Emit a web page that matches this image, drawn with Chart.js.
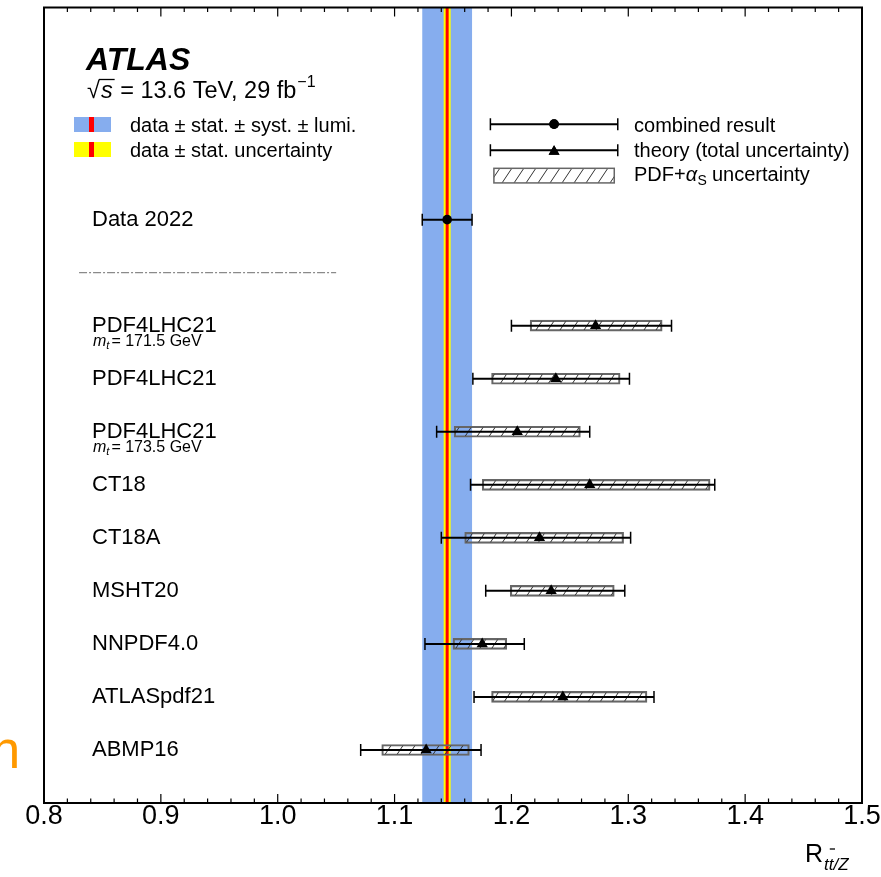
<!DOCTYPE html>
<html>
<head>
<meta charset="utf-8">
<script src="https://cdn.jsdelivr.net/npm/chart.js@4/dist/chart.umd.min.js"></script>
<style>
  html, body { margin: 0; padding: 0; background: #fff; }
  canvas { display: block; }
</style>
</head>
<body>
<canvas id="ratioChart" width="881" height="877"></canvas>
<script>
// measured ratio (Data 2022) and its uncertainties
const dataValue = 1.145;
const dataStat = 0.003;
const dataSyst = 0.021;
const dataLumi = 0.002;
const dataTotal = Math.sqrt(dataStat * dataStat + dataSyst * dataSyst + dataLumi * dataLumi);

// predictions, top to bottom
const theoryLabels = ['PDF4LHC21', 'PDF4LHC21', 'PDF4LHC21', 'CT18', 'CT18A', 'MSHT20', 'NNPDF4.0', 'ATLASpdf21', 'ABMP16'];
const theoryTopMass = ['171.5', '', '173.5', '', '', '', '', '', ''];
const theoryCentral = [1.272, 1.238, 1.205, 1.267, 1.224, 1.234, 1.175, 1.244, 1.127];
const totalLow  = [1.200, 1.167, 1.136, 1.165, 1.140, 1.178, 1.126, 1.168, 1.071];
const totalHigh = [1.337, 1.301, 1.267, 1.374, 1.302, 1.297, 1.211, 1.322, 1.174];
const pdfLow    = [1.216, 1.183, 1.151, 1.175, 1.160, 1.199, 1.150, 1.183, 1.089];
const pdfHigh   = [1.329, 1.293, 1.259, 1.370, 1.296, 1.288, 1.196, 1.316, 1.164];

// x axis
const xMin = 0.8, xMax = 1.5, xMajor = 0.1, xMinor = 0.02;

// vertical layout in row units
const yRows = 15;
const dataRow = 4;
const separatorRow = 5;
const firstTheoryRow = 6;
const separatorFrom = 0.83, separatorTo = 1.05;

const FONT = '"Liberation Sans", Arial, Helvetica, sans-serif';
const rowOf = i => firstTheoryRow + i;

function hatchPattern() {
  const c = document.createElement('canvas');
  c.width = 12; c.height = 18;
  const g = c.getContext('2d');
  g.strokeStyle = '#333';
  g.lineWidth = 1;
  g.beginPath();
  g.moveTo(0, 18); g.lineTo(12, 0);
  g.moveTo(-2, 3); g.lineTo(2, -3);
  g.moveTo(10, 21); g.lineTo(14, 15);
  g.stroke();
  return g.createPattern(c, 'repeat');
}
const hatch = hatchPattern();

// error bar lines, broken by null points
const barLines = [{x: dataValue - dataTotal, y: dataRow}, {x: dataValue + dataTotal, y: dataRow}, {x: null, y: null}];
const barCaps = [{x: dataValue - dataTotal, y: dataRow}, {x: dataValue + dataTotal, y: dataRow}];
theoryCentral.forEach((c, i) => {
  barLines.push({x: totalLow[i], y: rowOf(i)}, {x: totalHigh[i], y: rowOf(i)}, {x: null, y: null});
  barCaps.push({x: totalLow[i], y: rowOf(i)}, {x: totalHigh[i], y: rowOf(i)});
});

function drawText(ctx, str, x, y, font, align, baseline) {
  ctx.font = font;
  ctx.textAlign = align || 'left';
  ctx.textBaseline = baseline || 'alphabetic';
  ctx.fillText(str, x, y);
  return ctx.measureText(str).width;
}

const decor = {
  id: 'atlasDecor',
  beforeDatasetsDraw(chart) {
    const {ctx, chartArea: a, scales: {x}} = chart;
    const band = (lo, hi, color) => {
      const p0 = x.getPixelForValue(lo), p1 = x.getPixelForValue(hi);
      ctx.fillStyle = color;
      ctx.fillRect(p0, a.top, p1 - p0, a.bottom - a.top);
    };
    ctx.save();
    band(dataValue - dataTotal, dataValue + dataTotal, '#86adee');
    band(dataValue - dataStat, dataValue + dataStat, '#ffff00');
    const pc = x.getPixelForValue(dataValue);
    ctx.strokeStyle = '#ff0000';
    ctx.lineWidth = 3;
    ctx.beginPath();
    ctx.moveTo(pc, a.top); ctx.lineTo(pc, a.bottom);
    ctx.stroke();
    ctx.restore();
  },
  afterDraw(chart) {
    const {ctx, chartArea: a, scales: {x, y}} = chart;
    ctx.save();
    ctx.fillStyle = '#000';
    ctx.strokeStyle = '#000';

    // frame and inward ticks on top and bottom
    ctx.lineWidth = 2;
    ctx.strokeRect(a.left, a.top, a.right - a.left, a.bottom - a.top);
    ctx.lineWidth = 1.2;
    ctx.beginPath();
    const nMinor = Math.round((xMax - xMin) / xMinor);
    for (let k = 0; k <= nMinor; k++) {
      const px = x.getPixelForValue(xMin + k * xMinor);
      const len = k % Math.round(xMajor / xMinor) === 0 ? 9 : 4.5;
      ctx.moveTo(px, a.bottom); ctx.lineTo(px, a.bottom - len);
      ctx.moveTo(px, a.top); ctx.lineTo(px, a.top + len);
    }
    ctx.stroke();

    // experiment label
    const lx = a.left + 42;
    drawText(ctx, 'ATLAS', lx, 70, 'italic bold 32px ' + FONT);
    let cx = lx + 1;
    const f23 = '23.5px ' + FONT;
    cx += drawText(ctx, '\u221A', cx, 98, f23);
    const sx = cx;
    cx += drawText(ctx, 's', cx + 1, 98, 'italic 23.5px ' + FONT) + 2;
    ctx.lineWidth = 1.3;
    ctx.beginPath();
    ctx.moveTo(sx - 1, 79.5); ctx.lineTo(cx + 1, 79.5);
    ctx.stroke();
    cx += drawText(ctx, ' = 13.6 TeV, 29 fb', cx, 98, f23);
    drawText(ctx, '\u22121', cx + 1, 87, '16px ' + FONT);

    // left legend: measurement bands
    const bx = a.left + 30, bw = 37;
    const legendBand = (top, color) => {
      ctx.fillStyle = color;
      ctx.fillRect(bx, top, bw, 15);
      ctx.fillStyle = '#ff0000';
      ctx.fillRect(bx + 15, top, 5, 15);
    };
    legendBand(117, '#86adee');
    legendBand(142, '#ffff00');
    ctx.fillStyle = '#000';
    const f20 = '20px ' + FONT;
    drawText(ctx, 'data \u00B1 stat. \u00B1 syst. \u00B1 lumi.', a.left + 86, 131.5, f20);
    drawText(ctx, 'data \u00B1 stat. uncertainty', a.left + 86, 156.5, f20);

    // right legend: markers drawn on the chart scales
    const gx0 = x.getPixelForValue(1.182), gx1 = x.getPixelForValue(1.291), gxm = x.getPixelForValue(1.2365);
    const legendBar = (row) => {
      const py = y.getPixelForValue(row);
      ctx.lineWidth = 2;
      ctx.beginPath();
      ctx.moveTo(gx0, py); ctx.lineTo(gx1, py);
      ctx.stroke();
      ctx.lineWidth = 1.5;
      ctx.beginPath();
      ctx.moveTo(gx0, py - 6); ctx.lineTo(gx0, py + 6);
      ctx.moveTo(gx1, py - 6); ctx.lineTo(gx1, py + 6);
      ctx.stroke();
      return py;
    };
    const py1 = legendBar(2.2);
    Chart.helpers.drawPoint(ctx, {pointStyle: 'circle', radius: 4.8, borderWidth: 0, rotation: 0}, gxm, py1);
    ctx.fill();
    const py2 = legendBar(2.69);
    Chart.helpers.drawPoint(ctx, {pointStyle: 'triangle', radius: 6.3, borderWidth: 0, rotation: 0}, gxm, py2 + 1.5);
    ctx.fill();
    const hx0 = x.getPixelForValue(1.185), hx1 = x.getPixelForValue(1.288), hy = y.getPixelForValue(3.17);
    ctx.fillStyle = hatch;
    ctx.fillRect(hx0, hy - 7.3, hx1 - hx0, 14.6);
    ctx.strokeStyle = '#666';
    ctx.lineWidth = 1.5;
    ctx.strokeRect(hx0, hy - 7.3, hx1 - hx0, 14.6);
    ctx.fillStyle = '#000';
    const tx = x.getPixelForValue(1.3049);
    drawText(ctx, 'combined result', tx, 131.5, f20);
    drawText(ctx, 'theory (total uncertainty)', tx, 156.5, f20);
    let ax = tx + drawText(ctx, 'PDF+', tx, 181, f20);
    ax += drawText(ctx, '\u03B1', ax, 181, 'italic 20px ' + FONT);
    ax += drawText(ctx, 'S', ax + 0.5, 185, '14px ' + FONT);
    drawText(ctx, ' uncertainty', ax, 181, f20);

    // row labels
    const rx = a.left + 48;
    const f22 = '22px ' + FONT;
    drawText(ctx, 'Data 2022', rx, y.getPixelForValue(dataRow), f22, 'left', 'middle');
    theoryLabels.forEach((lab, i) => {
      const py = y.getPixelForValue(rowOf(i));
      drawText(ctx, lab, rx, py, f22, 'left', 'middle');
      if (theoryTopMass[i]) {
        let nx = rx + 1;
        nx += drawText(ctx, 'm', nx, py + 20, 'italic 16px ' + FONT);
        nx += drawText(ctx, 't', nx, py + 23, 'italic 11px ' + FONT) + 2;
        drawText(ctx, '= ' + theoryTopMass[i] + ' GeV', nx, py + 20, '16px ' + FONT);
      }
    });

    // axis title
    let rtx = a.right - 57;
    rtx += drawText(ctx, 'R', rtx, 862, '25px ' + FONT) + 1;
    const tw = drawText(ctx, 't', rtx, 870, 'italic 17px ' + FONT);
    const t2 = drawText(ctx, 't', rtx + tw, 870, 'italic 17px ' + FONT);
    ctx.strokeStyle = '#000';
    ctx.lineWidth = 1.3;
    ctx.beginPath();
    ctx.moveTo(rtx + tw + 1, 849); ctx.lineTo(rtx + tw + t2 + 1.5, 849);
    ctx.stroke();
    drawText(ctx, '/Z', rtx + tw + t2, 870, 'italic 17px ' + FONT);

    // stray orange glyph at the left edge
    ctx.fillStyle = '#ff9900';
    drawText(ctx, 'n', -9.3, 768, '53px ' + FONT);
    ctx.restore();
  }
};

new Chart(document.getElementById('ratioChart'), {
  type: 'scatter',
  data: {
    datasets: [
      {
        type: 'bar',
        indexAxis: 'y',
        data: theoryLabels.map((_, i) => ({x: [pdfLow[i], pdfHigh[i]], y: rowOf(i)})),
        backgroundColor: hatch,
        borderColor: '#666',
        borderWidth: 1.5,
        borderSkipped: false,
        barThickness: 11,
        order: 4
      },
      {
        data: [{x: separatorFrom, y: separatorRow}, {x: separatorTo, y: separatorRow}],
        showLine: true,
        borderColor: '#8a8a8a',
        borderWidth: 1.3,
        borderDash: [8, 2, 2, 2],
        pointRadius: 0,
        order: 3
      },
      {
        data: barLines,
        showLine: true,
        spanGaps: false,
        borderColor: '#000',
        borderWidth: 2,
        pointRadius: 0,
        order: 2
      },
      {
        data: barCaps,
        pointStyle: 'line',
        rotation: 90,
        pointRadius: 6,
        borderColor: '#000',
        pointBorderWidth: 1.5,
        order: 2
      },
      {
        data: theoryCentral.map((c, i) => ({x: c, y: rowOf(i)})),
        pointStyle: 'triangle',
        pointRadius: 6.5,
        backgroundColor: '#000',
        borderWidth: 0,
        order: 1
      },
      {
        data: [{x: dataValue, y: dataRow}],
        pointStyle: 'circle',
        pointRadius: 4.8,
        backgroundColor: '#000',
        borderWidth: 0,
        order: 1
      }
    ]
  },
  options: {
    responsive: false,
    animation: false,
    events: [],
    layout: {padding: {left: 44, right: 19, top: 7, bottom: 47}},
    plugins: {legend: {display: false}, tooltip: {enabled: false}},
    scales: {
      x: {
        type: 'linear',
        min: xMin,
        max: xMax,
        offset: false,
        grid: {display: false, drawTicks: false, offset: false},
        border: {display: false},
        ticks: {
          stepSize: xMajor,
          padding: 0,
          color: '#000',
          font: {family: FONT, size: 27, lineHeight: 1},
          callback: v => v.toFixed(1)
        }
      },
      y: {
        type: 'linear',
        display: false,
        reverse: true,
        offset: false,
        grid: {offset: false},
        min: 0,
        max: yRows
      }
    }
  },
  plugins: [decor]
});
</script>
</body>
</html>
